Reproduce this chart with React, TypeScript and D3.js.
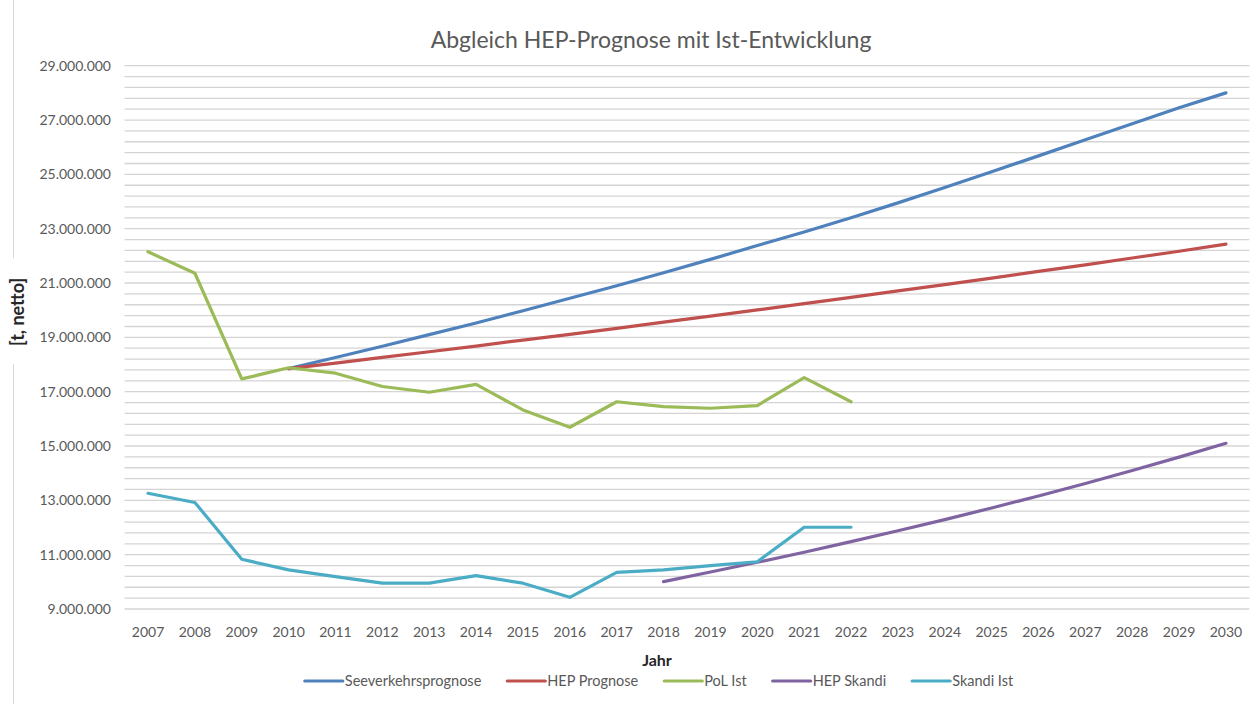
import React, { useEffect, useRef } from "react";
import * as d3 from "d3";

const years: number[] = [2007, 2008, 2009, 2010, 2011, 2012, 2013, 2014, 2015, 2016, 2017, 2018, 2019, 2020, 2021, 2022, 2023, 2024, 2025, 2026, 2027, 2028, 2029, 2030];

type V = number | null;
const seeverkehrsprognose: V[] = [null, null, null, 17.85, 18.26, 18.67, 19.1, 19.53, 19.98, 20.44, 20.9, 21.38, 21.87, 22.38, 22.88, 23.4, 23.95, 24.52, 25.1, 25.68, 26.27, 26.86, 27.45, 28.0];
const hepPrognose: V[] = [null, null, null, 17.85, 18.05, 18.26, 18.47, 18.68, 18.9, 19.11, 19.33, 19.56, 19.78, 20.01, 20.24, 20.47, 20.71, 20.94, 21.18, 21.43, 21.67, 21.92, 22.17, 22.43];
const polIst: V[] = [22.15, 21.36, 17.47, 17.88, 17.68, 17.19, 16.98, 17.27, 16.33, 15.69, 16.63, 16.45, 16.39, 16.49, 17.52, 16.63, null, null, null, null, null, null, null, null];
const hepSkandi: V[] = [null, null, null, null, null, null, null, null, null, null, null, 10.01, 10.36, 10.72, 11.09, 11.48, 11.88, 12.29, 12.72, 13.16, 13.62, 14.1, 14.59, 15.1];
const skandiIst: V[] = [13.26, 12.92, 10.83, 10.44, 10.19, 9.95, 9.95, 10.23, 9.95, 9.43, 10.35, 10.44, 10.6, 10.74, 12.01, 12.01, null, null, null, null, null, null, null, null];

const seriesNames: string[] = ["Seeverkehrsprognose", "HEP Prognose", "PoL Ist", "HEP Skandi", "Skandi Ist"];
const seriesColors: string[] = ["#4F81BD", "#C0504D", "#9BBB59", "#8064A2", "#4BACC6"];
const seriesValues: V[][] = [seeverkehrsprognose, hepPrognose, polIst, hepSkandi, skandiIst];

const yMin = 9000000;
const yMax = 29000000;
const yMajor = 2000000;
const yMinor = 400000;

const title = "Abgleich HEP-Prognose mit Ist-Entwicklung";
const xTitle = "Jahr";
const yTitle = "[t, netto]";

const W = 1256;
const H = 704;
const FONT = "Lato, 'Open Sans', sans-serif";

export default function App() {
  const ref = useRef<SVGSVGElement | null>(null);

  useEffect(() => {
    const svg = d3.select(ref.current);
    svg.selectAll("*").remove();

    const left = 124.6;
    const right = 1249.4;
    const top = 65.7;
    const bottom = 609;

    const x = d3.scaleBand<number>().domain(years).range([left, right]);
    const xc = (yr: number) => (x(yr) as number) + x.bandwidth() / 2;
    const y = d3.scaleLinear().domain([yMin, yMax]).range([bottom, top]);

    const de = d3.formatLocale({ decimal: ",", thousands: ".", grouping: [3], currency: ["", "€"] });
    const fmt = de.format(",.0f");

    svg.append("rect").attr("width", W).attr("height", H).attr("fill", "#fff");

    // gridlines
    const grid = d3.range(yMin, yMax + 1, yMinor);
    svg.append("g").selectAll("line").data(grid).join("line")
      .attr("x1", left).attr("x2", right)
      .attr("y1", (d) => y(d)).attr("y2", (d) => y(d))
      .attr("stroke", "#d4d4d4").attr("stroke-width", 1.3);

    // y tick labels
    const major = d3.range(yMin, yMax + 1, yMajor);
    svg.append("g").selectAll("text").data(major).join("text")
      .attr("x", 111).attr("y", (d) => y(d)).attr("dy", "0.35em")
      .attr("text-anchor", "end")
      .attr("font-family", FONT).attr("font-size", 14).attr("fill", "#595959")
      .text((d) => fmt(d));

    // x tick labels
    svg.append("g").selectAll("text").data(years).join("text")
      .attr("x", (d) => xc(d)).attr("y", 637)
      .attr("text-anchor", "middle")
      .attr("font-family", FONT).attr("font-size", 14).attr("fill", "#595959")
      .text((d) => String(d));

    // lines
    const line = d3.line<V>()
      .defined((d) => d != null)
      .x((_, i) => xc(years[i]))
      .y((d) => y((d as number) * 1e6));

    seriesValues.forEach((vals, i) => {
      svg.append("path")
        .attr("d", line(vals) as string)
        .attr("fill", "none")
        .attr("stroke", seriesColors[i])
        .attr("stroke-width", 3.2)
        .attr("stroke-linejoin", "round")
        .attr("stroke-linecap", "round");
    });

    // title
    svg.append("text")
      .attr("x", 651).attr("y", 48).attr("text-anchor", "middle")
      .attr("font-family", FONT).attr("font-size", 23).attr("fill", "#595959")
      .text(title);

    // x title
    svg.append("text")
      .attr("x", 657).attr("y", 666).attr("text-anchor", "middle")
      .attr("font-family", FONT).attr("font-size", 16).attr("font-weight", "bold").attr("fill", "#262626")
      .text(xTitle);

    // y title
    const yt = svg.append("text")
      .attr("transform", "translate(24,312) rotate(-90)")
      .attr("text-anchor", "middle")
      .attr("font-family", FONT).attr("font-size", 18).attr("font-weight", "bold").attr("fill", "#262626")
      .text(yTitle);
    const ytLen = (yt.node() as SVGTextElement).getComputedTextLength();

    // chart border on the left, interrupted by the y title
    svg.append("line").attr("x1", 13.5).attr("x2", 13.5).attr("y1", 0).attr("y2", 312 - ytLen / 2 - 20)
      .attr("stroke", "#d9d9d9").attr("stroke-width", 1);
    svg.append("line").attr("x1", 13.5).attr("x2", 13.5).attr("y1", 312 + ytLen / 2 + 18).attr("y2", H)
      .attr("stroke", "#d9d9d9").attr("stroke-width", 1);

    // legend
    const lg = svg.append("g");
    const lineLen = 38;
    const gapText = 2;
    const gapItem = 26;
    let cx = 0;
    seriesNames.forEach((name, i) => {
      const g = lg.append("g");
      g.append("line").attr("x1", 0).attr("x2", lineLen).attr("y1", 0).attr("y2", 0)
        .attr("stroke", seriesColors[i]).attr("stroke-width", 3.2).attr("stroke-linecap", "round");
      const t = g.append("text").attr("x", lineLen + gapText).attr("y", 0).attr("dy", "0.35em")
        .attr("font-family", FONT).attr("font-size", 14.5).attr("fill", "#595959").text(name);
      const tw = (t.node() as SVGTextElement).getComputedTextLength();
      g.attr("transform", `translate(${cx},0)`);
      cx += lineLen + gapText + tw + gapItem;
    });
    const total = cx - gapItem;
    lg.attr("transform", `translate(${659 - total / 2},681)`);
  }, []);

  return (
    <svg ref={ref} width={W} height={H} style={{ position: "absolute", left: 0, top: 0, display: "block" }} />
  );
}
